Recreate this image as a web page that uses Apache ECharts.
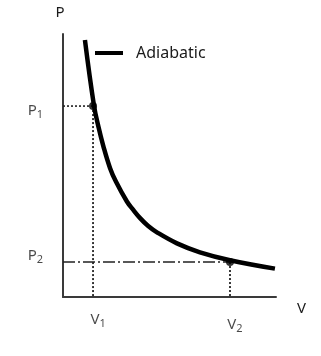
<!DOCTYPE html>
<html><head><meta charset="utf-8">
<script src="https://cdn.jsdelivr.net/npm/echarts@6/dist/echarts.min.js"></script>
<style>html,body{margin:0;padding:0;background:#fff}#c{width:321px;height:356px}</style>
</head><body><div id="c"></div>
<script>
// adiabatic curve (V, P)
const curveV = [1.03, 1.45, 1.67, 1.89, 2.21, 2.49, 3.00, 3.29, 3.62, 4.00, 4.41, 5.35, 6.43, 7.84, 9.95];
const curveP = [9.77, 7.30, 6.45, 5.75, 4.90, 4.38, 3.63, 3.32, 3.00, 2.70, 2.46, 2.04, 1.70, 1.40, 1.08];
// states 1 and 2
const stateV = [1.41, 7.84];
const stateP = [7.26, 1.33];
const stateNames = ['1', '2'];
const seriesName = 'Adiabatic';

const font = 'Noto Sans';
const txt = '#1a1a1a';
const rich = {
  a: {fontSize: 15, fontFamily: font, color: txt},
  s: {fontSize: 11, fontFamily: font, color: txt, padding: [7, 0, 0, 0]}
};

const chart = echarts.init(document.getElementById('c'), null, {renderer: 'canvas'});
const axisCommon = {
  type: 'value', min: 0, max: 10,
  axisLine: {show: true, lineStyle: {color: '#3a3a3a', width: 2}},
  axisTick: {show: false}, axisLabel: {show: false}, splitLine: {show: false}
};
const guide = (pts, type, w) => ({
  type: 'line', data: pts, symbol: 'none', silent: true,
  lineStyle: {color: '#222', width: w, type: type}, z: 1
});

chart.setOption({
  animation: false,
  grid: {left: 63, right: 45, top: 34, bottom: 59},
  legend: {
    data: [{name: seriesName, icon: 'rect'}],
    left: 90, top: 40, itemWidth: 28, itemHeight: 4,
    textStyle: {fontFamily: font, fontSize: 16, color: txt, padding: [0, 0, 0, 8]}
  },
  xAxis: Object.assign({}, axisCommon, {
    name: 'V', nameGap: 21,
    nameTextStyle: {fontFamily: font, fontSize: 15, color: txt, verticalAlign: 'top', padding: [4, 0, 0, 0]}
  }),
  yAxis: Object.assign({}, axisCommon, {
    name: 'P', nameGap: 14,
    nameTextStyle: {fontFamily: font, fontSize: 15, color: txt, padding: [0, 6, 0, 0]}
  }),
  series: [
    {
      name: seriesName, type: 'line', smooth: 0.4, symbol: 'none',
      data: curveV.map((v, i) => [v, curveP[i]]),
      lineStyle: {color: '#000', width: 4.5}, itemStyle: {color: '#000'}, z: 3
    },
    guide([[0, stateP[0]], [stateV[0], stateP[0]]], [2, 2], 1.6),
    guide([[stateV[0], stateP[0]], [stateV[0], 0]], [2, 2], 1.8),
    guide([[0, stateP[1]], [stateV[1], stateP[1]]], [12, 3, 2, 3], 1.5),
    guide([[stateV[1], stateP[1]], [stateV[1], 0]], [2, 2], 1.8),
    {
      type: 'scatter', symbolSize: 8, itemStyle: {color: '#000'}, z: 4, silent: true,
      data: stateV.map((v, i) => [v, stateP[i]])
    },
    // P labels on the y axis
    {
      type: 'scatter', symbolSize: 0, silent: true,
      data: stateP.map((p, i) => ({value: [0, p], name: stateNames[i]})),
      label: {
        show: true, position: 'left', distance: 20,
        formatter: d => '{a|P}{s|' + d.name + '}', rich: rich
      },
      labelLayout: (params) => ({dy: params.dataIndex === 0 ? 5 : -6})
    },
    // V labels on the x axis
    {
      type: 'scatter', symbolSize: 0, silent: true,
      data: stateV.map((v, i) => ({value: [v, 0], name: stateNames[i]})),
      label: {
        show: true, position: 'bottom', distance: 14,
        formatter: d => '{a|V}{s|' + d.name + '}', rich: rich
      },
      labelLayout: (params) => ({dx: 5, dy: params.dataIndex === 0 ? 0 : 5})
    }
  ]
});
</script></body></html>
